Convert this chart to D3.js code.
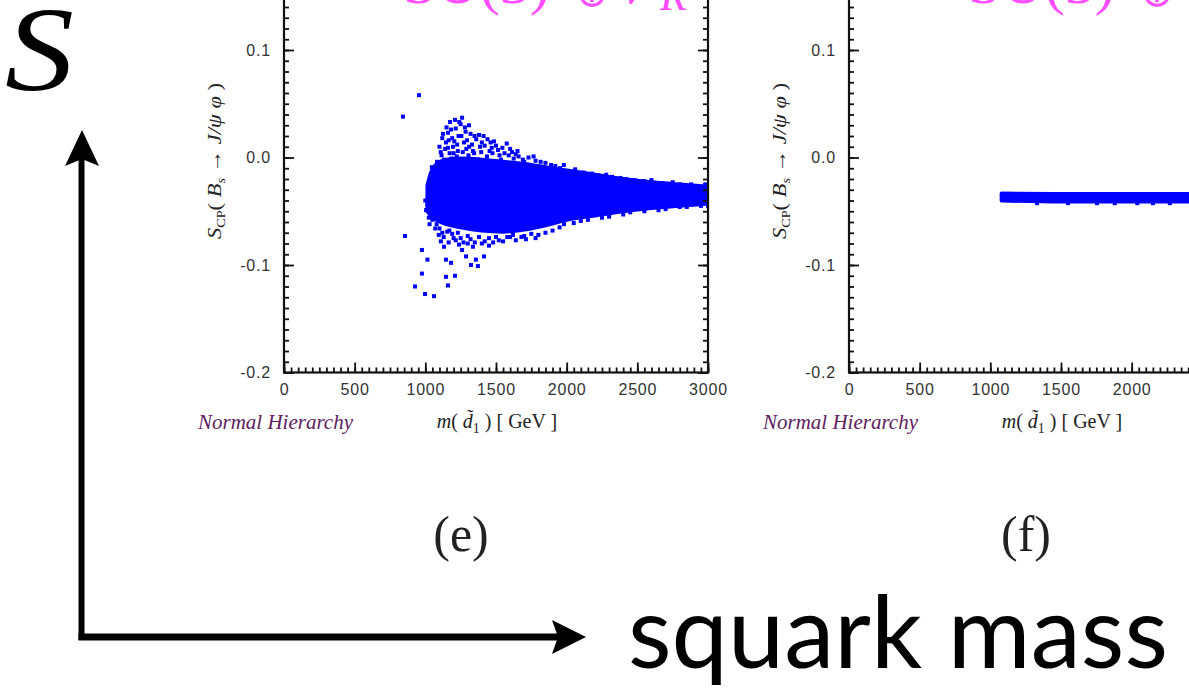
<!DOCTYPE html>
<html>
<head>
<meta charset="utf-8">
<title>S_CP vs squark mass</title>
<script src="https://cdn.jsdelivr.net/npm/d3@7"></script>
<style>
  body { margin: 0; background: #fff; }
  svg { display: block; }
</style>
</head>
<body>
<script>
// tick values
var xTicks = [0, 500, 1000, 1500, 2000, 2500, 3000];
var yTicks = [-0.2, -0.1, 0.0, 0.1, 0.2];
var panelLabels = ["(e)", "(f)"];

// panel (e): dense core of the cloud (upper / lower edge) + loose points
var coreMassE = [1015, 1040, 1080, 1150, 1250, 1400, 1550, 1700, 1850, 2000, 2200, 2400, 2600, 2800, 3000];
var coreHighE = [-0.026, -0.014, -0.006, -0.002, -0.001, -0.002, -0.004, -0.006, -0.009, -0.012, -0.016, -0.020, -0.023, -0.025, -0.027];
var coreLowE  = [-0.050, -0.054, -0.058, -0.062, -0.065, -0.068, -0.069, -0.067, -0.063, -0.058, -0.054, -0.050, -0.047, -0.045, -0.043];
var scatterE = [
  // far outliers
  [842, 0.038], [955, 0.058], [856, -0.073], [976, -0.086], [1015, -0.095], [976, -0.108],
  [927, -0.120], [998, -0.127], [1061, -0.129],
  // upper hump
  [1046, -0.009], [1058, -0.019], [1083, -0.004], [1109, 0.005], [1146, 0.014], [1160, 0.023],
  [1182, 0.026], [1210, 0.035], [1260, 0.037], [1235, 0.020], [1196, 0.010], [1285, 0.024],
  [1309, 0.030], [1274, 0.014], [1348, 0.020], [1387, 0.010], [1412, 0.020], [1462, 0.014],
  [1486, 0.015], [1514, 0.007], [1576, 0.013], [1613, 0.005], [1652, 0.006], [1690, -0.002],
  [1766, 0.001], [1816, -0.004], [1890, -0.007], [1953, -0.010], [2016, -0.013], [2120, -0.014],
  [2222, -0.017], [2321, -0.018], [2420, -0.020], [2547, -0.022], [2675, -0.024], [2802, -0.025],
  [2929, -0.027], [1222, 0.001], [1337, 0.006], [1436, 0.001], [1535, -0.002], [1373, -0.002],
  [1172, 0.004], [1132, -0.002], [1250, 0.031], [1290, 0.008], [1120, 0.018],
  [1100, 0.010], [1115, 0.002], [1125, 0.022], [1140, 0.008], [1150, 0.028], [1165, 0.016],
  [1175, 0.033], [1190, 0.018], [1200, 0.004], [1215, 0.027], [1225, 0.012], [1240, 0.033],
  [1255, 0.020], [1265, 0.005], [1280, 0.028], [1295, 0.016], [1305, 0.002], [1320, 0.022],
  [1330, 0.012], [1345, 0.004], [1360, 0.017], [1380, 0.021], [1395, 0.005], [1420, 0.011],
  [1440, 0.017], [1455, 0.006], [1475, 0.004], [1500, 0.011], [1525, 0.002], [1545, 0.009],
  [1560, 0.004], [1590, 0.002], [1625, -0.001], [1660, 0.001], [1700, -0.004], [1730, 0.000],
  [1780, -0.003], [1850, -0.005], [1920, -0.008], [1980, -0.007], [2060, -0.011], [2180, -0.015],
  [2280, -0.016], [2380, -0.019], [2480, -0.021], [2600, -0.021], [2750, -0.023], [2880, -0.025],
  [2980, -0.025], [1160, 0.009], [1185, -0.001], [1205, 0.015], [1230, 0.006], [1310, 0.010],
  [1400, 0.014], [1470, 0.009], [1600, 0.008], [1640, 0.003],
  // left edge
  [1020, -0.030], [1025, -0.056], [1035, -0.022], [1015, -0.044], [1030, -0.062], [1005, -0.049],
  [1000, -0.040],
  // lower fringe
  [1132, -0.083], [1146, -0.095], [1146, -0.111], [1160, -0.119], [1210, -0.110], [1182, -0.098],
  [1260, -0.086], [1288, -0.092], [1323, -0.100], [1358, -0.095], [1372, -0.101], [1415, -0.092],
  [1238, -0.081], [1337, -0.083], [1550, -0.078], [1640, -0.077], [1712, -0.076], [1981, -0.062],
  [1080, -0.062], [1120, -0.070], [1200, -0.075], [1400, -0.080], [1480, -0.079], [1600, -0.074],
  [1800, -0.072], [1900, -0.068], [2100, -0.059], [2250, -0.056], [2400, -0.053], [2550, -0.050],
  [2700, -0.048], [2850, -0.046], [3000, -0.045], [1100, -0.066], [1170, -0.068], [1300, -0.073],
  [1450, -0.075], [1700, -0.073], [1050, -0.058], [1070, -0.066], [1095, -0.072], [1110, -0.078],
  [1130, -0.074], [1155, -0.069], [1165, -0.079], [1190, -0.071], [1215, -0.077], [1230, -0.070],
  [1250, -0.075], [1270, -0.079], [1300, -0.080], [1320, -0.076], [1350, -0.079], [1380, -0.074],
  [1420, -0.078], [1450, -0.082], [1500, -0.074], [1520, -0.077], [1580, -0.074], [1620, -0.072],
  [1680, -0.074], [1750, -0.071], [1780, -0.075], [1850, -0.070], [1950, -0.065], [2050, -0.061],
  [2150, -0.058], [2300, -0.055], [2450, -0.051], [2650, -0.049], [2800, -0.046], [2950, -0.045]
];

// panel (f): narrow band + a few points just under it
var bandMassF = [1080, 1500, 2000, 2500, 3000];
var bandHighF = [-0.0335, -0.034, -0.034, -0.034, -0.034];
var bandLowF  = [-0.040, -0.041, -0.041, -0.041, -0.041];
var scatterF = [[1330, -0.0425], [1550, -0.0425], [1755, -0.0425], [1880, -0.0425], [2040, -0.0425], [2150, -0.0425], [2270, -0.0425]];

var W = 1189, H = 697;
var blue = "#0000ff";
var pink = "#ff4dff";
var serif = "Liberation Serif, Times New Roman, serif";
var svg = d3.select("body").append("svg").attr("width", W).attr("height", H);
svg.append("rect").attr("width", W).attr("height", H).attr("fill", "#fff");

var panelX = [284, 849];
var panelW = 424;
var yTop = -57.5, yBot = 372.5;

function drawPanel(i, bandMass, bandHigh, bandLow, pts) {
    var x0 = panelX[i];
    var x = d3.scaleLinear().domain([0, 3000]).range([x0, x0 + panelW]);
    var y = d3.scaleLinear().domain([-0.2, 0.2]).range([yBot, yTop]);
    var g = svg.append("g");

    g.append("clipPath").attr("id", "clip" + i).append("rect")
        .attr("x", x0).attr("y", yTop).attr("width", panelW).attr("height", yBot - yTop);
    var marks = g.append("g").attr("clip-path", "url(#clip" + i + ")");

    var band = bandMass.map(function (m, k) { return [m, bandHigh[k], bandLow[k]]; });
    var area = d3.area().curve(d3.curveMonotoneX)
        .x(function (d) { return x(d[0]); })
        .y0(function (d) { return y(d[2]); })
        .y1(function (d) { return y(d[1]); });
    marks.append("path").datum(band).attr("d", area)
        .attr("fill", blue).attr("stroke", blue).attr("stroke-width", 4).attr("stroke-linejoin", "round");
    marks.selectAll("rect.pt").data(pts).enter().append("rect").attr("class", "pt")
        .attr("x", function (d) { return x(d[0]) - 2; })
        .attr("y", function (d) { return y(d[1]) - 2; })
        .attr("width", 4).attr("height", 4).attr("fill", blue);

    // ticks
    var minorY = d3.range(-20, 21).map(function (k) { return k / 100; });
    var minorX = d3.range(0, 61).map(function (k) { return k * 50; });
    function styleAxis(a) {
        a.select(".domain").remove();
        a.selectAll("line").attr("stroke", "#111").attr("stroke-width", 1.8);
        a.selectAll("text").attr("font-family", "Liberation Sans, Arial, sans-serif")
            .attr("font-size", 16).attr("fill", "#333").attr("letter-spacing", 0.8);
    }
    g.append("g").attr("transform", "translate(" + x0 + ",0)")
        .call(d3.axisLeft(y).tickValues(minorY).tickSize(-5).tickFormat("")).call(styleAxis);
    g.append("g").attr("transform", "translate(" + x0 + ",0)")
        .call(d3.axisLeft(y).tickValues(yTicks).tickSize(-10).tickPadding(13)
            .tickFormat(function (d) { return y(d) > 0 ? d.toFixed(1) : ""; })).call(styleAxis);
    g.append("g").attr("transform", "translate(" + (x0 + panelW) + ",0)")
        .call(d3.axisRight(y).tickValues(minorY).tickSize(-5).tickFormat("")).call(styleAxis);
    g.append("g").attr("transform", "translate(" + (x0 + panelW) + ",0)")
        .call(d3.axisRight(y).tickValues(yTicks).tickSize(-10).tickFormat("")).call(styleAxis);
    g.append("g").attr("transform", "translate(0," + yBot + ")")
        .call(d3.axisBottom(x).tickValues(minorX).tickSize(-5).tickFormat("")).call(styleAxis);
    g.append("g").attr("transform", "translate(0," + yBot + ")")
        .call(d3.axisBottom(x).tickValues(xTicks).tickSize(-10).tickPadding(11)
            .tickFormat(function (d) { return x(d) < W ? d3.format("d")(d) : ""; })).call(styleAxis);

    g.append("rect").attr("x", x0).attr("y", yTop).attr("width", panelW).attr("height", yBot - yTop)
        .attr("fill", "none").attr("stroke", "#111").attr("stroke-width", 2.2);

    // y title
    var yt = g.append("text").attr("transform", "translate(" + (x0 - 63) + ",161) rotate(-90)")
        .attr("text-anchor", "middle").attr("font-family", serif)
        .attr("font-size", 19).attr("fill", "#222")
        .attr("textLength", 156).attr("lengthAdjust", "spacingAndGlyphs");
    yt.append("tspan").attr("font-style", "italic").text("S");
    yt.append("tspan").attr("font-size", 12).attr("dy", 4).text("CP");
    yt.append("tspan").attr("dy", -4).text("( ");
    yt.append("tspan").attr("font-style", "italic").text("B");
    yt.append("tspan").attr("font-style", "italic").attr("font-size", 12).attr("dy", 4).text("s");
    yt.append("tspan").attr("dy", -4).text(" \u2192 ");
    yt.append("tspan").attr("font-style", "italic").text("J/\u03C8 \u03C6");
    yt.append("tspan").text(" )");

    // x title
    var xt = g.append("text").attr("x", x0 + 213).attr("y", 428)
        .attr("text-anchor", "middle").attr("font-family", serif)
        .attr("font-size", 20).attr("fill", "#222");
    xt.append("tspan").attr("font-style", "italic").text("m");
    xt.append("tspan").text("( ");
    xt.append("tspan").attr("font-style", "italic").text("d\u0303");
    xt.append("tspan").attr("font-size", 14).attr("dy", 5).text("1");
    xt.append("tspan").attr("dy", -5).text(" ) [ GeV ]");

    g.append("text").attr("x", x0 - 86).attr("y", 429)
        .attr("font-family", serif).attr("font-style", "italic")
        .attr("font-size", 21).attr("fill", "#5e2160").text("Normal Hierarchy");

    g.append("text").attr("x", x0 + 177).attr("y", 551).attr("text-anchor", "middle")
        .attr("font-family", serif)
        .attr("font-size", 50).attr("fill", "#222").text(panelLabels[i]);

    // pink model name, mostly cut off at the top
    g.append("text").attr("x", x0 + 119).attr("y", 3).attr("font-family", serif)
        .attr("font-size", 60).attr("fill", pink).text("SU(3)");
    g.append("text").attr("x", x0 + 308).attr("y", 6).attr("text-anchor", "middle").attr("font-family", "DejaVu Sans")
        .attr("font-size", 40).attr("fill", pink).text("\u2295");
    g.append("text").attr("x", x0 + 336).attr("y", 3).attr("font-family", serif).attr("font-style", "italic")
        .attr("font-size", 60).attr("fill", pink).text("\u03BD");
    g.append("text").attr("x", x0 + 376).attr("y", 10).attr("font-family", serif).attr("font-style", "italic")
        .attr("font-size", 44).attr("fill", pink).text("R");
}

drawPanel(0, coreMassE, coreHighE, coreLowE, scatterE);
drawPanel(1, bandMassF, bandHighF, bandLowF, scatterF);

// big schematic axes
svg.append("text").attr("transform", "translate(5,90) scale(1.15,1)")
    .attr("font-family", serif).attr("font-style", "italic")
    .attr("font-size", 120).attr("fill", "#000").text("S");

svg.append("line").attr("x1", 81.5).attr("y1", 640).attr("x2", 81.5).attr("y2", 155)
    .attr("stroke", "#000").attr("stroke-width", 6);
svg.append("path").attr("d", "M82,130 L99,166 L82,159 L65,166 Z").attr("fill", "#000");
svg.append("line").attr("x1", 78.5).attr("y1", 637).attr("x2", 565).attr("y2", 637)
    .attr("stroke", "#000").attr("stroke-width", 7);
svg.append("path").attr("d", "M586,637 L552,620 L558,637 L552,654 Z").attr("fill", "#000");

svg.append("text").attr("x", 628).attr("y", 668)
    .attr("font-family", "Lato, Open Sans, sans-serif").attr("font-size", 100)
    .attr("textLength", 540).attr("lengthAdjust", "spacingAndGlyphs")
    .attr("fill", "#000").text("squark mass");
</script>
</body>
</html>
